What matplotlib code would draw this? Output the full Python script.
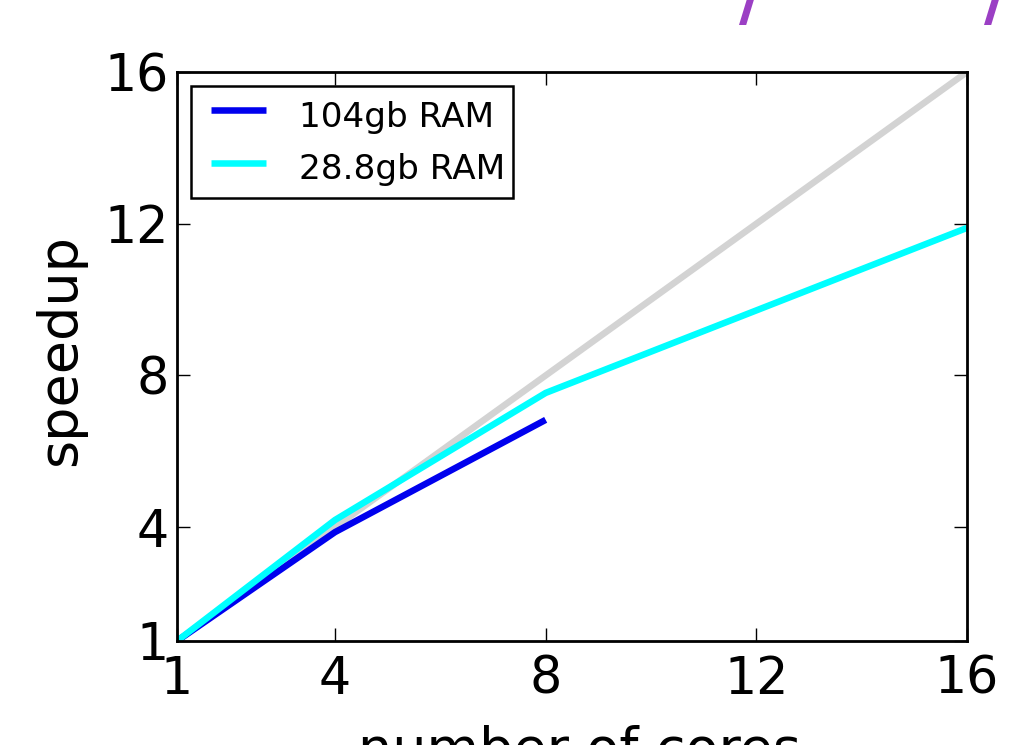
import matplotlib
matplotlib.use("Agg")
import matplotlib.pyplot as plt
from matplotlib.legend_handler import HandlerLine2D

cores_ideal = [1, 16]
speedup_ideal = [1, 16]
cores_104 = [1, 4, 8]
speedup_104 = [1, 3.87, 6.83]
cores_288 = [1, 4, 8, 16]
speedup_288 = [1, 4.19, 7.54, 11.89]
xticks = [1, 4, 8, 12, 16]
yticks = [1, 4, 8, 12, 16]


class OffsetLineHandler(HandlerLine2D):
    def __init__(self, offset_frac=0.0, **kw):
        super().__init__(**kw)
        self.offset_frac = offset_frac

    def get_xdata(self, legend, xdescent, ydescent, width, height, fontsize):
        x0 = -xdescent + width * self.offset_frac
        x1 = -xdescent + width
        return [x0, x1], [x0, x1]


plt.rcParams['font.family'] = ['DejaVu Sans']
fig = plt.figure(figsize=(10.09, 7.45), dpi=100)
ax = fig.add_axes([177/1009, 1-641/745, 790/1009, 569/745])

lw = 4.7
ax.plot(cores_ideal, speedup_ideal, color='#d3d3d3', lw=lw, solid_capstyle='butt')
l1, = ax.plot(cores_104, speedup_104, color='#0000ee', lw=lw, label='104gb RAM',
              solid_capstyle='butt')
l2, = ax.plot(cores_288, speedup_288, color='#00ffff', lw=lw, label='28.8gb RAM',
              solid_capstyle='butt')

ax.set_xlim(1, 16)
ax.set_ylim(1, 16)
ax.set_xticks(xticks)
ax.set_yticks(yticks)
ax.tick_params(direction='in', length=9.5, width=1, top=True, right=True,
               labelsize=36.5)
ax.tick_params(axis='x', pad=10)
ax.tick_params(axis='y', pad=6)
for s in ax.spines.values():
    s.set_linewidth(2)
ax.set_xlabel('number of cores', fontsize=39)
ax.set_ylabel('speedup', fontsize=39)
ax.xaxis.set_label_coords(0.509, (641 - 725) / 569)
ax.yaxis.set_label_coords(-(177 - 86) / 790, 0.5 + 6 / 569)
ax.yaxis.label.set_va('bottom')

fs = 24.7
em = fs * 100 / 72
bp = 8 / em
h = OffsetLineHandler(offset_frac=12 / 67)
leg = ax.legend(loc='upper left', fontsize=fs, fancybox=False, framealpha=1,
                edgecolor='black', handlelength=67 / em, handleheight=54 / em,
                handletextpad=33 / em, borderpad=bp, labelspacing=9 / em,
                borderaxespad=0.4, handler_map={l1: h, l2: h})
leg.get_frame().set_linewidth(1.8)

fig.text(751/1009, 1.0, '/', color='#9b3fc4', fontsize=48, fontweight='bold',
         ha='center', va='center')
fig.text(996/1009, 1.0, '/', color='#9b3fc4', fontsize=48, fontweight='bold',
         ha='center', va='center')

fig.savefig('out.png', dpi=100)
